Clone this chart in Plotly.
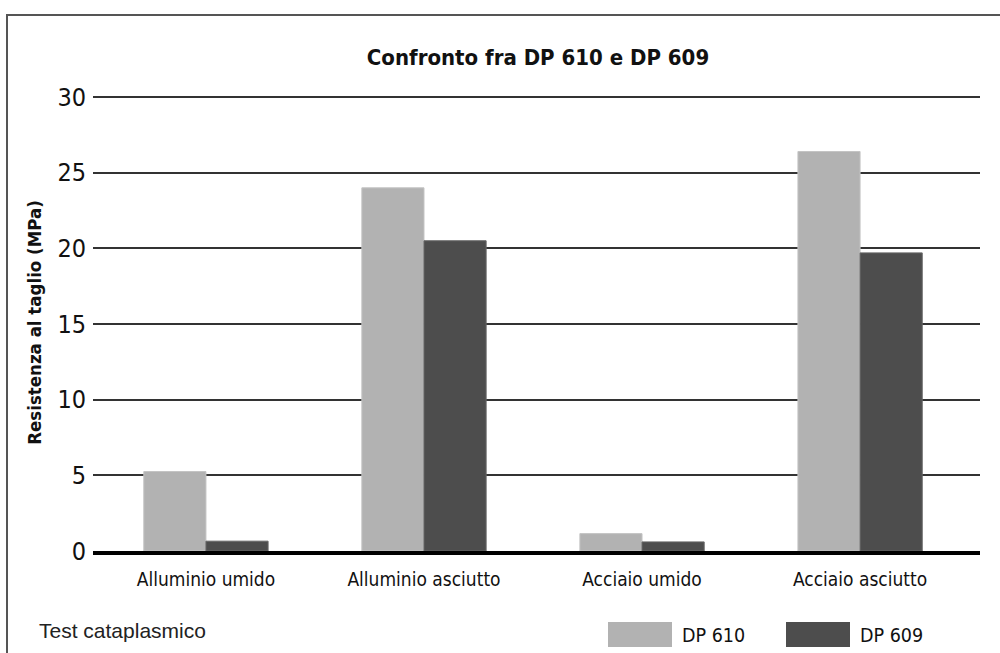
import plotly.graph_objects as go

categories = ["Alluminio umido", "Alluminio asciutto", "Acciaio umido", "Acciaio asciutto"]
series_names = ["DP 610", "DP 609"]
dp610 = [5.25, 24.0, 1.15, 26.4]
dp609 = [0.65, 20.5, 0.6, 19.7]
series_values = [dp610, dp609]
colors = ["#b2b2b2", "#4d4d4d"]
edge_colors = ["#c4c4c4", "#666666"]
y_ticks = [0, 5, 10, 15, 20, 25, 30]

NARROW = "DejaVu Sans Condensed, Liberation Sans Narrow, sans-serif"
REG = "Liberation Sans, Arial, sans-serif"

W, H = 1000, 653
ML, MR, MT, MB = 93, 20, 94, 102
pw = W - ML - MR
ph = H - MT - MB

def px_x(x):
    return (x - ML) / pw

def px_y(y):
    return (H - MB - y) / ph

fig = go.Figure()
for name, vals, c, ec in zip(series_names, series_values, colors, edge_colors):
    fig.add_trace(go.Bar(
        x=categories, y=vals, name=name,
        marker=dict(color=c, line=dict(color=ec, width=1)),
        showlegend=False, hoverinfo="skip",
    ))

fig.update_layout(
    width=W, height=H,
    margin=dict(l=ML, r=MR, t=MT, b=MB),
    paper_bgcolor="white", plot_bgcolor="white",
    barmode="group", bargap=0.43, bargroupgap=0,
    title=dict(text="<b>Confronto fra DP 610 e DP 609</b>", x=px_x(538), xref="paper",
               xanchor="center", y=1 - 57 / H, yanchor="middle",
               font=dict(family=NARROW, size=22, color="#111")),
    xaxis=dict(range=[-0.518, 3.55], showgrid=False, showline=True, linecolor="black",
               linewidth=4, ticks="", tickfont=dict(family=NARROW, size=19, color="#111"),
               zeroline=False, ticklabelstandoff=8),
    yaxis=dict(range=[0, 30.2], tickvals=y_ticks, showgrid=True, gridcolor="#333333",
               gridwidth=1.6, zeroline=False, showline=False, ticks="",
               ticklabelstandoff=6,
               tickfont=dict(family=NARROW, size=25, color="#111"),
               title=dict(text="<b>Resistenza al taglio (MPa)</b>",
                          font=dict(family=NARROW, size=18.5, color="#111"), standoff=10)),
    font=dict(family=NARROW, color="#111"),
)

# outer frame
fig.add_shape(type="rect", xref="paper", yref="paper",
              x0=px_x(7), x1=px_x(1010), y0=px_y(670), y1=px_y(15),
              line=dict(color="#555555", width=2), fillcolor="rgba(0,0,0,0)", layer="below")

fig.add_annotation(text="Test cataplasmico", xref="paper", yref="paper",
                   x=px_x(37), y=px_y(630), xanchor="left", yanchor="middle",
                   showarrow=False, font=dict(family=REG, size=21, color="#222"))

# legend drawn manually
legend_x = [608, 786]
for name, c, lx in zip(series_names, colors, legend_x):
    fig.add_shape(type="rect", xref="paper", yref="paper",
                  x0=px_x(lx), x1=px_x(lx + 64), y0=px_y(647), y1=px_y(622),
                  fillcolor=c, line=dict(color=c, width=0))
    fig.add_annotation(text=name, xref="paper", yref="paper",
                       x=px_x(lx + 72), y=px_y(635), xanchor="left", yanchor="middle",
                       showarrow=False, font=dict(family=NARROW, size=19.5, color="#111"))

fig.write_html("out.html", config={"displayModeBar": False},
               post_script="document.body.style.margin='0';document.body.style.overflow='hidden';")
